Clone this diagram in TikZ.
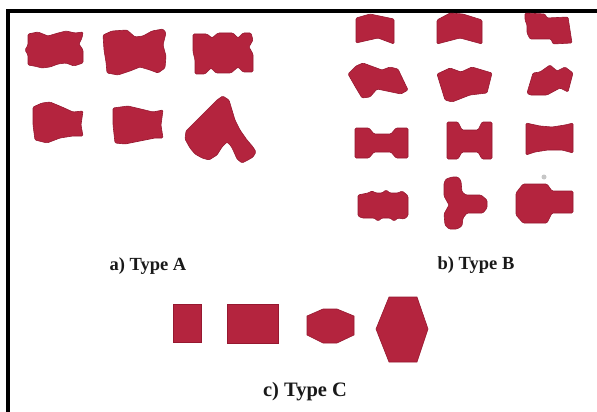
\documentclass[tikz,border=0pt]{standalone}
\usepackage{fontspec}
\setmainfont{Liberation Serif}
\definecolor{paver}{RGB}{180,36,62}
\definecolor{paveredge}{RGB}{150,24,48}
\definecolor{labeltext}{RGB}{25,25,25}
\begin{document}
\begin{tikzpicture}[x=1pt,y=-1pt,
  block/.style={fill=paver,draw=paveredge,line width=0.6pt,rounded corners=1.2pt},
  caption/.style={font=\bfseries\fontsize{18.5}{20}\selectfont,text=labeltext,inner sep=0pt}]
\useasboundingbox[fill=white] (0,0) rectangle (597,412);
% frame (left and top only)
\draw[line width=3.6pt] (8,412) -- (8,11) -- (597,11);

% ---------------- Type A ----------------
% A1
\draw[block] (28,34) -- (38,32) -- (48,36) -- (58,33) -- (66,31) -- (75,33) -- (83,32)
  -- (82,38) -- (79,44) -- (83,50) -- (83,63) -- (74,66) -- (66,63) -- (58,64) -- (50,67)
  -- (42,68) -- (34,66) -- (28,65) -- (28,55) -- (25,50) -- (28,45) -- cycle;
% A2
\draw[block] (103,35) -- (112,31) -- (127,30) -- (135,37) -- (143,36) -- (152,31) -- (163,29)
  -- (166,33) -- (163,45) -- (166,56) -- (165,68) -- (158,73) -- (150,70) -- (140,67)
  -- (130,71) -- (118,75) -- (107,73) -- (106,62) -- (104,50) -- cycle;
% A3
\draw[block] (193,34) -- (207,34) -- (212,38) -- (218,33) -- (233,33) -- (238,38) -- (243,33)
  -- (251,33) -- (253,40) -- (249,47) -- (253,54) -- (253,72) -- (243,72) -- (238,67)
  -- (231,73) -- (216,73) -- (211,68) -- (205,74) -- (195,74) -- (195,60) -- (193,52) -- cycle;
% A4
\draw[block] (33,107) -- (42,103) -- (50,102) -- (62,107) -- (73,112) -- (83,111)
  -- (81,125) -- (83,136) -- (73,136) -- (60,138) -- (47,143) -- (35,140) -- (33,125) -- cycle;
% A5
\draw[block] (113,108) -- (128,106) -- (145,110) -- (153,112) -- (163,110)
  -- (161,125) -- (163,138) -- (155,138) -- (140,141) -- (125,144) -- (115,143) -- (113,125) -- cycle;
% A6
\draw[block] (222.7,96) -- (229,100) -- (232,110) -- (235,120) -- (240,130) -- (247,140)
  -- (253,147) -- (256,152) -- (253,157) -- (248,160) -- (242,163) -- (237,159) -- (234,152)
  -- (231,146) -- (227,142) -- (222,147) -- (217,155) -- (209,160) -- (202,158) -- (195,154)
  -- (190,148) -- (185,139) -- (186,131) -- (190,127) -- (197,120) -- (204,113) -- (211,106)
  -- (217,100) -- cycle;

% ---------------- Type B ----------------
% B1
\draw[block] (356,18) -- (370,14) -- (394,19) -- (394,44) -- (378,38) -- (356,43) -- cycle;
% B2
\draw[block] (437,20) -- (450,13) -- (463,14) -- (482,20) -- (482,44) -- (460,38) -- (437,44) -- cycle;
% B3
\draw[block] (525,13) -- (545,14) -- (547,18) -- (568,17) -- (572,43) -- (553,44) -- (551,39)
  -- (530,39) -- (527,33) -- (527,25) -- (525,20) -- cycle;
% B4
\draw[block] (348,74) -- (356,66) -- (363,63) -- (382,70) -- (390,67) -- (398,69) -- (408,90)
  -- (401,94) -- (377,89) -- (370,97) -- (362,98) -- (356,88) -- cycle;
% B5
\draw[block] (437,74) -- (450,68) -- (461,72) -- (472,67) -- (492,73) -- (487,93) -- (470,95)
  -- (452,102) -- (445,100) -- cycle;
% B6
\draw[block] (527,93) -- (533,73) -- (540,72) -- (550,65) -- (557,71) -- (565,67) -- (573,73)
  -- (568,92) -- (560,88) -- (547,95) -- (530,95) -- cycle;
% B7
\draw[block] (355,128) -- (369,128) -- (374,134) -- (391,134) -- (396,128) -- (408,128)
  -- (408,158) -- (396,158) -- (391,152) -- (374,152) -- (369,158) -- (355,158) -- cycle;
% B8
\draw[block] (447,122) -- (458,122) -- (462,130) -- (478,130) -- (482,122) -- (492,122)
  -- (492,159) -- (482,159) -- (478,152) -- (462,152) -- (458,159) -- (447,159) -- cycle;
% B9
\draw[block] (526,123) -- (540,126) -- (552,127) -- (565,125) -- (573,123) -- (573,153)
  -- (562,150) -- (548,150) -- (535,152) -- (526,155) -- cycle;
% B10
\draw[block] (358,195) -- (368,193) -- (372,191) -- (376,193) -- (382,193) -- (386,190)
  -- (390,193) -- (398,193) -- (402,191) -- (406,194) -- (408,196) -- (408,216) -- (404,219)
  -- (398,218) -- (394,221) -- (390,218) -- (382,218) -- (378,221) -- (374,218) -- (362,218)
  -- (358,216) -- cycle;
% B11
\draw[block] (446,179) -- (452,177) -- (458,177) -- (461,181) -- (462,192) -- (466,195)
  -- (481,195) -- (487,200) -- (487,208) -- (483,213) -- (467,213) -- (463,218) -- (462,226)
  -- (457,229) -- (449,229) -- (445,225) -- (444,214) -- (449,205) -- (444,196) -- (444,183) -- cycle;
% B12
\draw[block] (516,193) -- (523,184) -- (547,184) -- (552,191) -- (573,191) -- (573,213)
  -- (552,213) -- (547,223) -- (523,223) -- (516,215) -- cycle;
\fill[gray!45] (544,177) circle (2.5);

% ---------------- Type C ----------------
\draw[block,rounded corners=0pt] (173,304) rectangle (201,342);
\draw[block,rounded corners=0pt] (227,304) rectangle (278,343);
\draw[block,rounded corners=0pt] (307,316) -- (323,309) -- (337,309) -- (354,316) -- (354,335)
  -- (337,343) -- (323,343) -- (307,335) -- cycle;
\draw[block,rounded corners=0pt] (376,329) -- (389,297) -- (417,297) -- (428,329) -- (417,362)
  -- (389,362) -- cycle;

% ---------------- captions ----------------
\node[caption] (capA) at (148,266) {a) Type A};
\node[caption] (capB) at (476,265) {b) Type B};
\node[caption,font=\bfseries\fontsize{20.5}{22}\selectfont] (capC) at (305,392) {c) Type C};
\end{tikzpicture}
\end{document}
